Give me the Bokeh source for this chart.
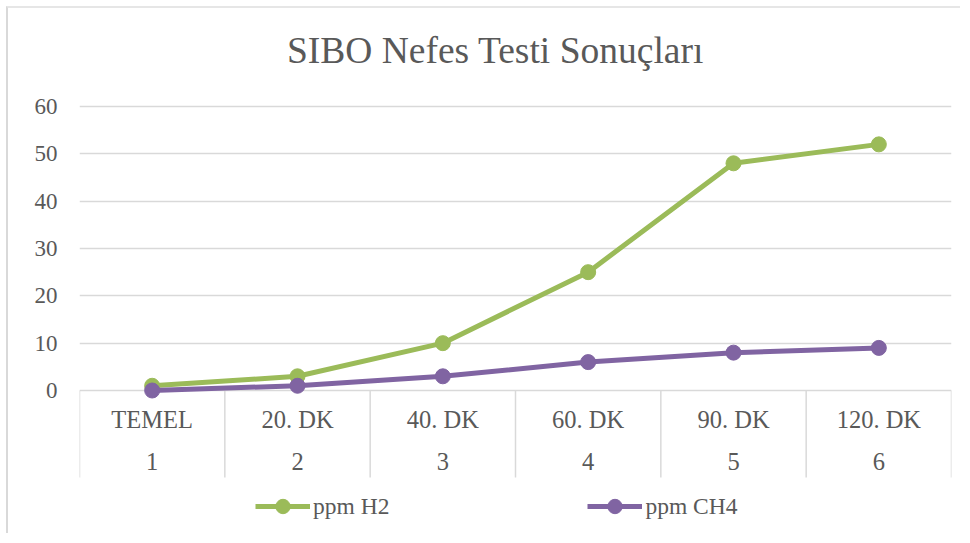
from bokeh.plotting import figure
from bokeh.models import (Range1d, FixedTicker, ColumnDataSource, Legend, LegendItem, Label)
from bokeh.core.properties import value
from bokeh.embed import file_html
from bokeh.resources import INLINE

# ---- data ----
time_labels = ["TEMEL", "20. DK", "40. DK", "60. DK", "90. DK", "120. DK"]
index_labels = ["1", "2", "3", "4", "5", "6"]
h2_values = [1, 3, 10, 25, 48, 52]
ch4_values = [0, 1, 3, 6, 8, 9]
y_ticks = [0, 10, 20, 30, 40, 50, 60]

title_text = "SIBO Nefes Testi Sonuçları"
FONT = "Liberation Serif"
TXT = "#595959"
GRID = "#d9d9d9"
GREEN = "#9BBB59"
PURPLE = "#8064A2"

OFF = 8                 # figure content offset on page
W, H = 954, 527
# layout in page px
px_left, px_right = 79, 951
px_y60, px_y0 = 106, 390
px_bottom = 534
px_title_x, px_title_y = 495, 50

n = len(time_labels)
xs = list(range(1, n + 1))
ppu = (px_y0 - px_y60) / 60.0
ppx = (px_right - px_left) / n
y_end = 60 + (px_y60 - OFF) / ppu
y_start = -(px_bottom - px_y0) / ppu

p = figure(width=W, height=H, output_backend="svg", toolbar_location=None,
           x_range=Range1d(0.5, n + 0.5), y_range=Range1d(y_start, y_end),
           min_border_left=px_left - OFF, min_border_right=W - (px_right - OFF),
           min_border_top=0, min_border_bottom=H - (px_bottom - OFF))
p.margin = (OFF - 2, 0, 0, OFF - 2)
p.styles = {"border-left": "2px solid #d9d9d9", "border-top": "2px solid #e6e6e6"}
p.outline_line_color = None
p.background_fill_color = "white"
p.border_fill_color = "white"

# title
p.add_layout(Label(x=0.5 + (px_title_x - px_left) / ppx, y=60 + (px_y60 - px_title_y) / ppu,
                   text=title_text, text_font=FONT, text_font_size="37.5px",
                   text_color=TXT, text_align="center", text_baseline="middle"))

# axes
p.xaxis.visible = False
yax = p.yaxis[0]
yax.ticker = FixedTicker(ticks=y_ticks)
yax.axis_line_color = None
yax.major_tick_line_color = None
yax.minor_tick_line_color = None
yax.major_label_text_font = FONT
yax.major_label_text_font_size = "23px"
yax.major_label_text_color = TXT
yax.major_label_standoff = 16
p.xgrid.visible = False
p.ygrid.ticker = FixedTicker(ticks=y_ticks)
p.ygrid.grid_line_color = GRID
p.ygrid.grid_line_width = 1.5

# category table
table_bottom = -87 / ppu
row1_y = -29 / ppu
row2_y = -71 / ppu
edges = [x - 0.5 for x in xs] + [n + 0.5]
p.segment(x0=edges, y0=[0] * len(edges), x1=edges, y1=[table_bottom] * len(edges),
          line_color=GRID, line_width=1.5)
p.text(x=xs, y=[row1_y] * n, text=time_labels, text_font=value(FONT),
       text_font_size="24.5px", text_color=TXT, text_align="center", text_baseline="middle")
p.text(x=xs, y=[row2_y] * n, text=index_labels, text_font=value(FONT),
       text_font_size="24.5px", text_color=TXT, text_align="center", text_baseline="middle")

# series
src = ColumnDataSource(dict(x=xs, h2=h2_values, ch4=ch4_values))
l1 = p.line("x", "h2", source=src, line_color=GREEN, line_width=5)
m1 = p.scatter("x", "h2", source=src, size=15, fill_color=GREEN, line_color=GREEN)
l2 = p.line("x", "ch4", source=src, line_color=PURPLE, line_width=5)
m2 = p.scatter("x", "ch4", source=src, size=15, fill_color=PURPLE, line_color=PURPLE)

legend = Legend(items=[LegendItem(label="ppm H2", renderers=[l1, m1]),
                       LegendItem(label="ppm CH4", renderers=[l2, m2])],
                orientation="horizontal", location=(176, 10),
                glyph_width=55, glyph_height=36, label_standoff=3, spacing=198,
                label_text_font=FONT, label_text_font_size="23.5px", label_text_color=TXT,
                border_line_color=None, background_fill_alpha=0, padding=0, margin=0)
p.add_layout(legend)

open("out.html", "w").write(file_html(p, INLINE))
